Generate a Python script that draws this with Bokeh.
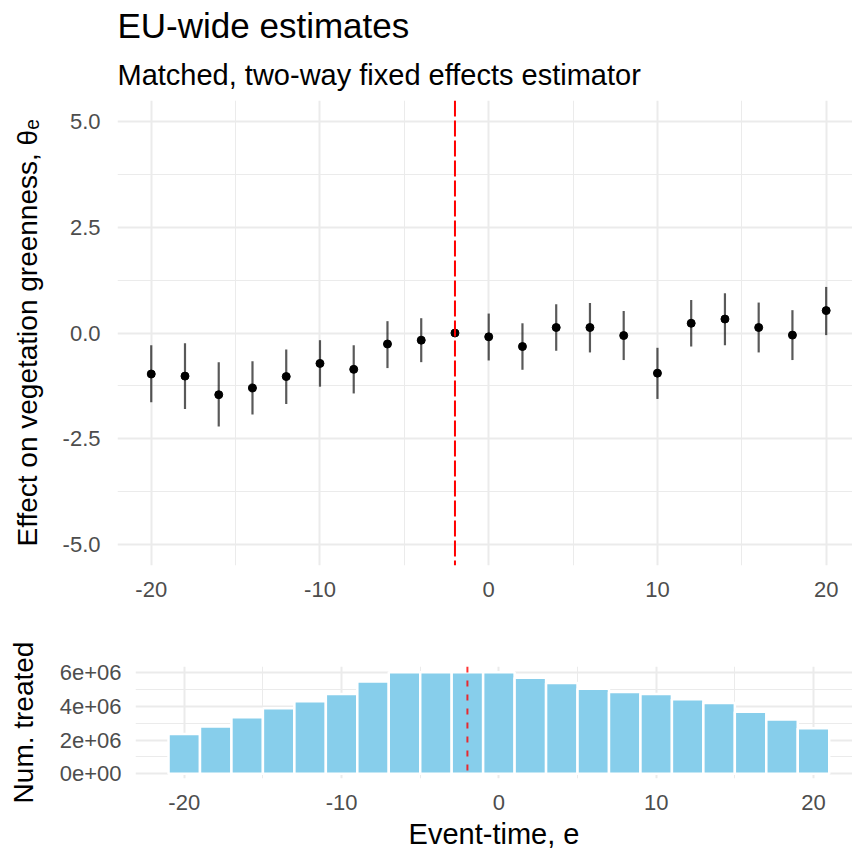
from bokeh.plotting import figure
from bokeh.models import Title, FixedTicker, Span
from bokeh.embed import file_html
from bokeh.resources import INLINE

# ---------------- data ----------------
event_time = [-20, -18, -16, -14, -12, -10, -8, -6, -4, -2, 0,
              2, 4, 6, 8, 10, 12, 14, 16, 18, 20]
estimate = [-0.97, -1.02, -1.46, -1.30, -1.03, -0.72, -0.86, -0.26, -0.17, 0.0, -0.09,
            -0.32, 0.13, 0.13, -0.06, -0.95, 0.23, 0.33, 0.13, -0.05, 0.53]
ci_low = [-1.64, -1.80, -2.21, -1.93, -1.68, -1.27, -1.43, -0.83, -0.69, 0.0, -0.65,
          -0.87, -0.42, -0.46, -0.64, -1.56, -0.32, -0.29, -0.46, -0.64, -0.05]
ci_high = [-0.29, -0.24, -0.69, -0.67, -0.39, -0.17, -0.29, 0.28, 0.35, 0.0, 0.46,
           0.23, 0.68, 0.71, 0.52, -0.35, 0.78, 0.94, 0.72, 0.54, 1.09]
num_treated = [2.36e6, 2.81e6, 3.36e6, 3.90e6, 4.31e6, 4.74e6, 5.49e6, 6.03e6, 6.03e6, 6.03e6, 6.03e6,
               5.70e6, 5.39e6, 5.06e6, 4.86e6, 4.74e6, 4.43e6, 4.21e6, 3.68e6, 3.23e6, 2.71e6]
ref_period = -2

x_ticks = [-20, -10, 0, 10, 20]
x_minor = [-15, -5, 5, 15]
x_labels = ["-20", "-10", "0", "10", "20"]
y_ticks = [-5.0, -2.5, 0.0, 2.5, 5.0]
y_minor = [-3.75, -1.25, 1.25, 3.75]
y_labels = ["-5.0", "-2.5", "0.0", "2.5", "5.0"]
n_ticks = [0, 2e6, 4e6, 6e6]
n_minor = [1e6, 3e6, 5e6]
n_labels = ["0e+00", "2e+06", "4e+06", "6e+06"]

FONT = "Liberation Sans"
GRID = "#EBEBEB"
TICK_TXT = "#4D4D4D"


def style(fig, xt, xm, xl, yt, ym, yl, x_std, y_std):
    fig.outline_line_color = None
    fig.background_fill_color = "white"
    fig.border_fill_color = "white"
    fig.xaxis.ticker = FixedTicker(ticks=xt, minor_ticks=xm)
    fig.yaxis.ticker = FixedTicker(ticks=yt, minor_ticks=ym)
    fig.xaxis.major_label_overrides = {t: l for t, l in zip(xt, xl)}
    fig.yaxis.major_label_overrides = {t: l for t, l in zip(yt, yl)}
    for ax in fig.axis:
        ax.axis_line_color = None
        ax.major_tick_line_color = None
        ax.minor_tick_line_color = None
        ax.major_tick_out = 0
        ax.major_tick_in = 0
        ax.major_label_text_font = FONT
        ax.major_label_text_font_size = "22px"
        ax.major_label_text_color = TICK_TXT
        ax.axis_label_text_font = FONT
        ax.axis_label_text_font_size = "28px"
        ax.axis_label_text_font_style = "normal"
        ax.axis_label_text_color = "black"
    fig.xaxis.major_label_standoff = x_std
    fig.yaxis.major_label_standoff = y_std
    for g in fig.grid:
        g.grid_line_color = GRID
        g.grid_line_width = 2
        g.minor_grid_line_color = GRID
        g.minor_grid_line_width = 1


# ---------------- top panel ----------------
p = figure(frame_width=735, frame_height=465,
           x_range=(-22, 21.56), y_range=(-5.5, 5.5),
           output_backend="svg", toolbar_location=None,
           min_border_left=117, min_border_right=0,
           min_border_top=100, min_border_bottom=55)
style(p, x_ticks, x_minor, x_labels, y_ticks, y_minor, y_labels, 12, 13)
p.yaxis.axis_label = "Effect on vegetation greenness, θₑ"
p.yaxis.axis_label_standoff = 17

p.add_layout(Title(text="Matched, two-way fixed effects estimator", text_font=FONT,
                   text_font_size="29px", text_font_style="normal", text_color="black",
                   align="left", standoff=19), "above")
p.add_layout(Title(text="EU-wide estimates", text_font=FONT,
                   text_font_size="35px", text_font_style="normal", text_color="black",
                   align="left", standoff=5), "above")

p.add_layout(Span(location=ref_period, dimension="height", line_color="red",
                  line_width=2, line_dash="16 4"))
p.segment(x0=event_time, y0=ci_low, x1=event_time, y1=ci_high,
          line_color="black", line_alpha=0.65, line_width=2.2)
p.scatter(event_time, estimate, size=8, fill_color="black", line_color="black")

# ---------------- bottom panel ----------------
q = figure(frame_width=717, frame_height=112,
           x_range=(-23.1, 22.48), y_range=(-0.28e6, 6.375e6),
           output_backend="svg", toolbar_location=None,
           min_border_left=135, min_border_right=0,
           min_border_top=46, min_border_bottom=68)
style(q, x_ticks, x_minor, x_labels, n_ticks, n_minor, n_labels, 12, 10)
q.yaxis.axis_label = "Num. treated"
q.yaxis.axis_label_standoff = 18
q.xaxis.axis_label = "Event-time, e"
q.xaxis.axis_label_text_font_size = "29px"
q.xaxis.axis_label_standoff = 5

q.vbar(x=event_time, top=num_treated, bottom=0, width=2,
       fill_color="#87CEEB", line_color="white", line_width=2.5)
q.add_layout(Span(location=ref_period, dimension="height", line_color="#FF0000",
                  line_alpha=0.8, line_width=2, line_dash="6 8"))

# two independent roots, stacked: each panel keeps its own left border
open("out.html", "w").write(file_html([p, q], INLINE))
